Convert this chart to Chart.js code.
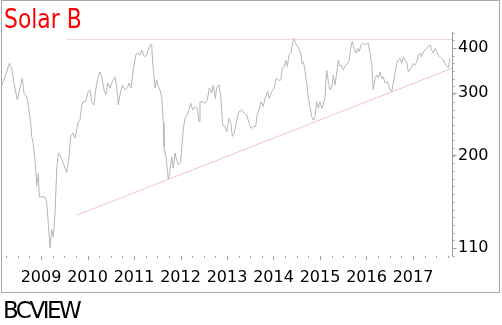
<!DOCTYPE html>
<html><head><meta charset="utf-8">
<script src="https://cdn.jsdelivr.net/npm/chart.js@4/dist/chart.umd.min.js"></script>
<style>
html,body{margin:0;padding:0;background:#fff;}
#wrap{position:relative;width:502px;height:325px;overflow:hidden;}
#frame{position:absolute;left:1px;top:0;width:497px;height:291px;border:1px solid #a8a8a8;box-sizing:content-box;}
canvas{position:absolute;left:0;top:0;}
#title{position:absolute;left:4px;top:5px;font:27px/27px "DejaVu Sans";color:#ff0000;transform:scaleX(0.81);transform-origin:0 0;white-space:nowrap;}
#brand{position:absolute;left:3px;top:299px;font:23px/23px "DejaVu Sans";color:#000;letter-spacing:-2.5px;white-space:nowrap;}
</style></head>
<body><div id="wrap"><div id="frame"></div><canvas id="c" width="502" height="325"></canvas>
<div id="title">Solar B</div><div id="brand">BCVIEW</div></div>
<script>
const priceDates = [2008.16,2008.226,2008.318,2008.370,2008.419,2008.490,2008.533,2008.598,2008.634,2008.692,2008.727,2008.779,2008.800,2008.834,2008.871,2008.908,2008.942,2008.963,2009.015,2009.086,2009.123,2009.157,2009.194,2009.230,2009.265,2009.301,2009.338,2009.372,2009.409,2009.480,2009.553,2009.602,2009.639,2009.682,2009.731,2009.768,2009.802,2009.839,
2009.875,2009.910,2009.961,2010.017,2010.054,2010.090,2010.140,2010.176,2010.219,2010.269,2010.305,2010.355,2010.398,2010.434,2010.484,2010.533,2010.591,2010.628,2010.662,2010.699,2010.748,2010.806,2010.856,2010.892,2010.935,2010.985,2011.037,2011.080,2011.129,2011.166,2011.222,2011.273,2011.308,2011.344,2011.381,2011.398,2011.415,2011.452,2011.488,2011.523,2011.559,2011.596,2011.630,2011.645,2011.688,2011.738,2011.774,2011.811,2011.845,2011.882,2011.918,2011.953,
2012.004,2012.032,2012.060,2012.097,2012.146,2012.189,2012.219,2012.262,2012.312,2012.361,2012.398,2012.419,2012.477,2012.527,2012.576,2012.619,2012.671,2012.705,2012.748,2012.778,2012.828,2012.865,2012.908,2012.957,2012.994,2013.043,2013.086,2013.114,2013.157,2013.209,2013.258,2013.316,2013.372,2013.424,2013.473,2013.516,2013.566,2013.617,2013.652,2013.688,2013.731,2013.781,2013.817,2013.875,2013.910,2013.961,
2014.017,2014.054,2014.103,2014.155,2014.189,2014.232,2014.262,2014.297,2014.333,2014.376,2014.413,2014.441,2014.477,2014.533,2014.585,2014.617,2014.645,2014.677,2014.714,2014.748,2014.785,2014.822,2014.856,2014.892,2014.929,2014.963,2015.000,2015.037,2015.071,2015.108,2015.144,2015.179,2015.215,2015.252,2015.286,2015.323,2015.359,2015.394,2015.430,2015.467,2015.501,2015.538,2015.587,2015.630,2015.660,2015.695,2015.731,2015.774,2015.811,2015.845,2015.882,2015.918,2015.968,
2016.004,2016.039,2016.075,2016.112,2016.146,2016.183,2016.219,2016.254,2016.290,2016.327,2016.361,2016.398,2016.456,2016.505,2016.542,2016.576,2016.613,2016.649,2016.684,2016.720,2016.757,2016.791,2016.828,2016.865,2016.899,2016.935,2016.972,2017.006,2017.043,2017.080,2017.114,2017.151,2017.187,2017.222,2017.258,2017.295,2017.329,2017.366,2017.402,2017.437,2017.473,2017.510,2017.544,2017.581,2017.617,2017.652,2017.688,2017.725,2017.759,2017.796];
const priceValues = [315,332,362,351,319,286,302,329,299,292,277,246,226,216,194,164,178,153,153,153,147,129,110,124,118,138,182,203,201,190,179,198,226,231,224,236,249,251,
277,283,283,302,305,283,277,305,329,343,332,305,296,319,309,322,332,312,277,296,315,305,309,319,309,347,382,388,382,395,378,382,395,408,408,370,349,309,325,312,305,292,246,212,198,171,182,198,184,203,194,188,
192,214,236,254,260,271,280,268,274,271,249,283,283,280,286,309,299,315,289,309,315,292,243,241,233,254,246,226,231,251,265,268,262,260,246,238,241,241,262,268,283,274,289,302,289,302,
309,329,325,325,351,355,370,355,382,387,417,426,412,403,387,362,366,345,319,292,274,257,251,257,283,271,283,271,277,292,347,322,305,309,336,315,340,370,355,358,347,355,362,370,399,417,399,387,399,391,408,412,408,
412,412,387,362,305,329,336,330,343,329,332,319,322,305,302,319,340,362,370,374,362,378,370,366,343,347,355,362,358,366,382,387,378,391,395,399,403,408,395,387,399,391,382,378,374,370,362,355,352,374];
const trendDates = [2009.77, 2017.84];
const trendValues = [136, 351];
const resistDates = [2009.55, 2017.84];
const resistValues = [423, 423];
const yearTicks = [2009,2010,2011,2012,2013,2014,2015,2016,2017];
const priceTicks = [110,200,300,400];

const toXY = (xs, ys) => xs.map((x,i)=>({x:x, y:ys[i]}));

const axisPlugin = {
  id:'axisDecor',
  afterDraw(chart){
    const ctx = chart.ctx, xs = chart.scales.x, ys = chart.scales.y, a = chart.chartArea;
    ctx.save();
    ctx.strokeStyle = '#a0a0a0'; ctx.lineWidth = 1;
    for (let q = Math.ceil(xs.min*4); q <= Math.floor(xs.max*4); q++) {
      const px = Math.round(xs.getPixelForValue(q/4)) + 0.5;
      const len = (q % 4 === 0) ? 4 : 2;
      ctx.beginPath(); ctx.moveTo(px, a.bottom); ctx.lineTo(px, a.bottom + len); ctx.stroke();
    }
    const ax = Math.round(a.right) + 0.5;
    ctx.beginPath(); ctx.moveTo(ax, a.top); ctx.lineTo(ax, a.bottom); ctx.stroke();
    const lo = Math.log(110), hi = Math.log(400), step = (hi - lo) / 26;
    for (let k = -2; k <= 30; k++) {
      const v = Math.exp(lo + k*step);
      if (v < ys.min || v > ys.max) continue;
      const py = Math.round(ys.getPixelForValue(v)) + 0.5;
      ctx.beginPath(); ctx.moveTo(ax, py); ctx.lineTo(ax + 2, py); ctx.stroke();
    }
    priceTicks.forEach(v => {
      const py = Math.round(ys.getPixelForValue(v)) + 0.5;
      ctx.beginPath(); ctx.moveTo(ax, py); ctx.lineTo(ax + 4, py); ctx.stroke();
    });
    ctx.restore();
  }
};

new Chart(document.getElementById('c'), {
  type: 'line',
  data: {
    datasets: [
      {data: toXY(resistDates, resistValues), borderColor:'#ecd4d8', borderWidth:1, pointRadius:0, tension:0},
      {data: toXY(trendDates, trendValues), borderColor:'#f2c2c4', borderWidth:1, pointRadius:0, tension:0},
      {data: toXY(priceDates, priceValues), borderColor:'#b6b6b6', borderWidth:1, pointRadius:0, tension:0}
    ]
  },
  options: {
    responsive:false, animation:false, devicePixelRatio:1,
    layout:{padding:{left:2, right:3, top:32, bottom:33}},
    plugins:{legend:{display:false}, tooltip:{enabled:false}},
    scales:{
      x:{
        type:'linear', min:2008.161, max:2017.839,
        grid:{display:false, drawTicks:false}, border:{display:false},
        afterBuildTicks(s){ s.ticks = yearTicks.map(v=>({value:v})); },
        afterFit(s){ s.height = 36; },
        ticks:{autoSkip:false, maxRotation:0, padding:12, color:'#000', font:{family:'DejaVu Sans', size:16}, callback:(v)=>String(v)}
      },
      y:{
        type:'logarithmic', position:'right', min:104.5, max:443.5,
        grid:{display:false, drawTicks:false}, border:{display:false},
        afterBuildTicks(s){ s.ticks = priceTicks.map(v=>({value:v})); },
        afterFit(s){ s.width = 47; },
        ticks:{autoSkip:false, padding:6, color:'#000', font:{family:'DejaVu Sans', size:16}, callback:(v)=>String(v)}
      }
    }
  },
  plugins:[axisPlugin]
});
</script>
</body></html>
